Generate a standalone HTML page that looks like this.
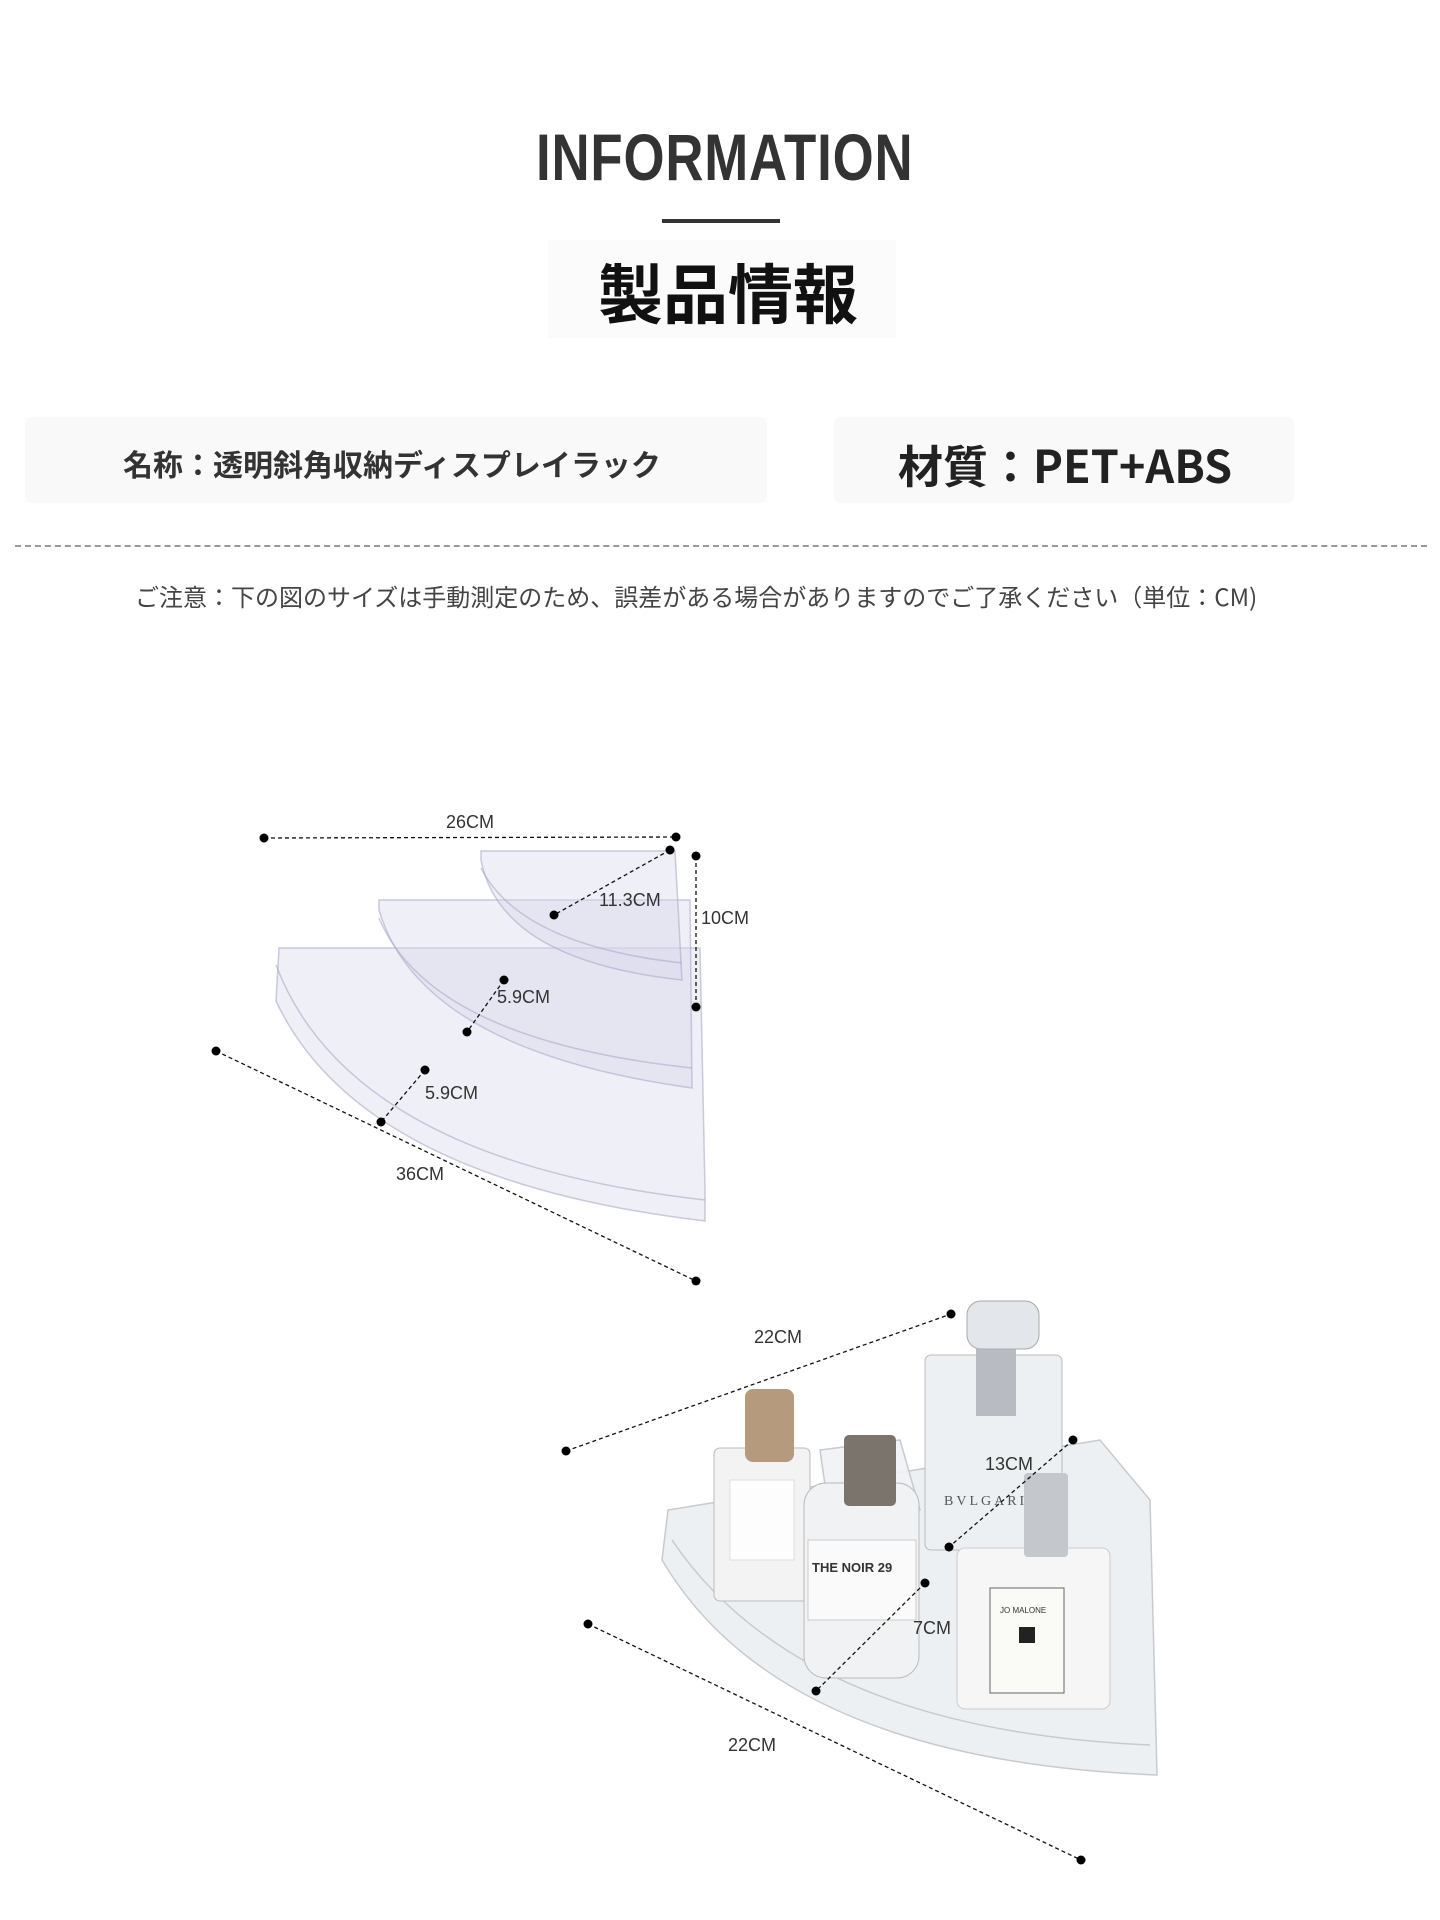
<!DOCTYPE html>
<html><head><meta charset="utf-8">
<style>
html,body{margin:0;padding:0;background:#fff;}
body{width:1440px;height:1920px;position:relative;overflow:hidden;font-family:"Liberation Sans","Noto Sans CJK JP",sans-serif;}
.a{position:absolute;white-space:nowrap;}
</style></head><body>
<div class="a" style="left:536px;top:122px;width:372px;height:70px;font-size:66px;font-weight:bold;color:#333;line-height:70px;"><span style="display:inline-block;transform:scaleX(0.8);transform-origin:left;letter-spacing:1px;">INFORMATION</span></div>
<div class="a" style="left:662px;top:219px;width:118px;height:4px;background:#333;"></div>
<div class="a" style="left:548px;top:240px;width:348px;height:98px;background:#fbfbfb;"></div>
<div class="a" style="left:598px;top:250px;font-size:65px;font-weight:bold;color:#111;line-height:80px;font-family:'Noto Sans CJK JP',sans-serif;">製品情報</div>

<div class="a" style="left:25px;top:417px;width:742px;height:86px;background:#f9f9f9;border-radius:6px;"></div>
<div class="a" style="left:834px;top:417px;width:460px;height:86px;background:#f9f9f9;border-radius:6px;"></div>
<div class="a" style="left:123px;top:443px;font-size:30px;font-weight:bold;color:#333;line-height:40px;font-family:'Noto Sans CJK JP',sans-serif;">名称：透明斜角収納ディスプレイラック</div>
<div class="a" style="left:898px;top:434px;font-size:45px;font-weight:bold;color:#222;line-height:60px;font-family:'Noto Sans CJK JP',sans-serif;">材質：PET+ABS</div>
<div class="a" style="left:15px;top:545px;width:1412px;border-top:2px dashed #999;"></div>
<div class="a" style="left:135px;top:580px;font-size:24px;color:#444;line-height:32px;font-family:'Noto Sans CJK JP',sans-serif;">ご注意：下の図のサイズは手動測定のため、誤差がある場合がありますのでご了承ください（単位：CM)</div>

<svg class="a" style="left:0;top:0" width="1440" height="1920" viewBox="0 0 1440 1920">
<g fill="rgba(215,215,235,0.4)" stroke="rgba(170,170,200,0.6)" stroke-width="1.5">
<path d="M279,948 L700,948 L705,1190 L705,1221 Q360,1180 276,1001 Z"/>
<path d="M276,965 Q350,1160 705,1200" fill="none"/>
<path d="M379,900 L690,900 L692,1088 Q420,1050 379,910 Z"/>
<path d="M379,918 Q430,1040 692,1068" fill="none"/>
<path d="M481,851 L675,851 L682,980 Q500,960 481,860 Z"/>
<path d="M481,868 Q520,945 682,963" fill="none"/>
</g>
<g fill="rgba(235,238,242,0.9)" stroke="#c8cacd" stroke-width="1.5">
<path d="M668,1510 L1100,1440 L1150,1500 L1157,1775 Q780,1760 662,1560 Z"/>
<path d="M672,1540 Q800,1730 1150,1745" fill="none"/>
<path d="M820,1450 L900,1440 L920,1510 L830,1520 Z" fill="rgba(240,242,245,0.9)"/>
</g>
<rect x="714" y="1448" width="96" height="153" rx="6" fill="#f3f3f3" stroke="#bbb"/>
<rect x="730" y="1480" width="64" height="80" fill="#fdfdfd" stroke="#ddd"/>
<rect x="745" y="1389" width="49" height="73" rx="8" fill="#b59a7e"/>
<rect x="804" y="1483" width="115" height="195" rx="22" fill="#f1f2f3" stroke="#bbb"/>
<rect x="808" y="1540" width="108" height="80" fill="#fafafa" stroke="#ccc"/>
<text x="812" y="1572" font-family="Liberation Sans" font-weight="bold" font-size="13" fill="#333">THE NOIR 29</text>
<rect x="844" y="1435" width="52" height="71" rx="5" fill="#7a746c"/>
<rect x="925" y="1355" width="137" height="195" rx="6" fill="#edf0f2" stroke="#b8bcc0"/>
<text x="944" y="1505" font-family="Liberation Serif" font-size="14" fill="#555" letter-spacing="3">BVLGARI</text>
<rect x="976" y="1349" width="40" height="67" fill="#b8bcc2"/>
<rect x="967" y="1301" width="72" height="48" rx="14" fill="#e3e6ea" stroke="#aaa"/>
<rect x="957" y="1548" width="153" height="161" rx="8" fill="#f6f6f6" stroke="#ccc"/>
<rect x="1024" y="1473" width="44" height="84" rx="4" fill="#c4c7cb"/>
<rect x="990" y="1588" width="74" height="105" fill="#fafaf6" stroke="#666"/>
<text x="1000" y="1613" font-family="Liberation Sans" font-size="8" fill="#333">JO MALONE</text>
<rect x="1019" y="1627" width="16" height="16" fill="#222"/>
<g stroke="#111" stroke-width="1.3" stroke-dasharray="4,3" fill="none">
<line x1="264" y1="838" x2="676" y2="837"/>
<line x1="696" y1="856" x2="696" y2="1007"/>
<line x1="670" y1="850" x2="554" y2="915"/>
<line x1="504" y1="980" x2="467" y2="1032"/>
<line x1="425" y1="1070" x2="381" y2="1122"/>
<line x1="216" y1="1051" x2="696" y2="1281"/>
<line x1="566" y1="1451" x2="951" y2="1314"/>
<line x1="1073" y1="1440" x2="949" y2="1547"/>
<line x1="925" y1="1583" x2="816" y2="1691"/>
<line x1="588" y1="1624" x2="1081" y2="1860"/>
</g>
<g fill="#000">
<circle cx="264" cy="838" r="4.5"/><circle cx="676" cy="837" r="4.5"/>
<circle cx="696" cy="856" r="4.5"/><circle cx="696" cy="1007" r="4.5"/>
<circle cx="670" cy="850" r="4.5"/><circle cx="554" cy="915" r="4.5"/>
<circle cx="504" cy="980" r="4.5"/><circle cx="467" cy="1032" r="4.5"/>
<circle cx="425" cy="1070" r="4.5"/><circle cx="381" cy="1122" r="4.5"/>
<circle cx="216" cy="1051" r="4.5"/><circle cx="696" cy="1281" r="4.5"/>
<circle cx="566" cy="1451" r="4.5"/><circle cx="951" cy="1314" r="4.5"/>
<circle cx="1073" cy="1440" r="4.5"/><circle cx="949" cy="1547" r="4.5"/>
<circle cx="925" cy="1583" r="4.5"/><circle cx="816" cy="1691" r="4.5"/>
<circle cx="588" cy="1624" r="4.5"/><circle cx="1081" cy="1860" r="4.5"/>
</g>
<g font-family="Liberation Sans" font-size="18" fill="#333">
<text x="446" y="828">26CM</text>
<text x="701" y="924">10CM</text>
<text x="599" y="906">11.3CM</text>
<text x="497" y="1003">5.9CM</text>
<text x="425" y="1099">5.9CM</text>
<text x="396" y="1180">36CM</text>
<text x="754" y="1343">22CM</text>
<text x="985" y="1470">13CM</text>
<text x="913" y="1634">7CM</text>
<text x="728" y="1751">22CM</text>
</g>
</svg>
</body></html>
